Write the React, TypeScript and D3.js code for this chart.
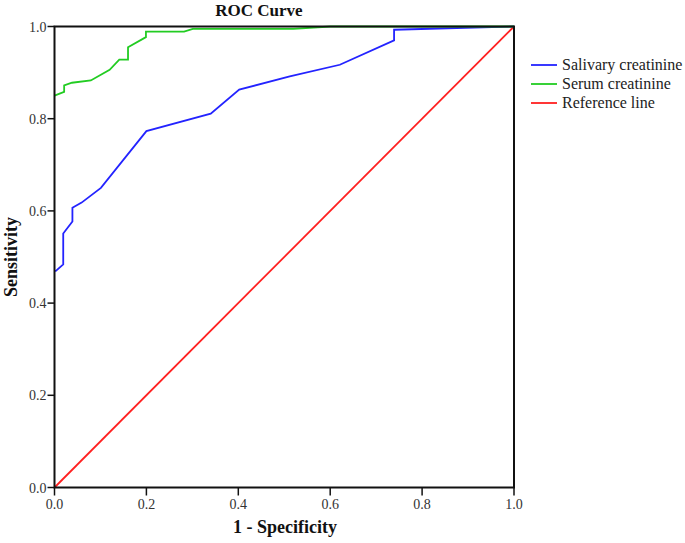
import React from "react";
import * as d3 from "d3";

const salivaryX = [0, 0.003, 0.019, 0.019, 0.039, 0.039, 0.059, 0.101, 0.2, 0.34, 0.402, 0.512, 0.621, 0.739, 0.739, 1.0];
const salivaryY = [0.47, 0.47, 0.484, 0.551, 0.577, 0.607, 0.618, 0.65, 0.773, 0.811, 0.863, 0.892, 0.917, 0.97, 0.993, 1.0];

const serumX = [0, 0, 0.021, 0.021, 0.038, 0.079, 0.12, 0.141, 0.16, 0.16, 0.199, 0.199, 0.282, 0.301, 0.52, 0.6, 1.0];
const serumY = [0.85, 0.85, 0.858, 0.872, 0.878, 0.883, 0.906, 0.928, 0.928, 0.955, 0.977, 0.989, 0.989, 0.995, 0.995, 1.0, 1.0];

const refX = [0, 1];
const refY = [0, 1];

const ticks = [0, 0.2, 0.4, 0.6, 0.8, 1.0];
const legendLabels = ["Salivary creatinine", "Serum creatinine", "Reference line"];
const colors = ["#2323ff", "#22cc22", "#ff2020"];

const W = 685, H = 543;
const left = 54.5, right = 514, top = 26.5, bottom = 487.5;

export default function App() {
  const x = d3.scaleLinear().domain([0, 1]).range([left, right]);
  const y = d3.scaleLinear().domain([0, 1]).range([bottom, top]);
  const line = d3.line<[number, number]>().x(d => x(d[0])).y(d => y(d[1]));
  const series = [
    salivaryX.map((v, i) => [v, salivaryY[i]] as [number, number]),
    serumX.map((v, i) => [v, serumY[i]] as [number, number]),
    refX.map((v, i) => [v, refY[i]] as [number, number]),
  ];
  const font = "'Liberation Serif', 'Times New Roman', serif";
  return (
    <svg width={W} height={H} style={{ position: "absolute", left: 0, top: 0, background: "#fff" }} fontFamily={font}>
      <rect x={0} y={0} width={W} height={H} fill="#fff" />
      <text x={259} y={16} textAnchor="middle" fontWeight="bold" fontSize={17} fill="#111">ROC Curve</text>
      {[2, 0, 1].map(i => (
        <path key={i} d={line(series[i]) || ""} fill="none" stroke={colors[i]} strokeWidth={1.8} />
      ))}
      <rect x={left} y={top} width={right - left} height={bottom - top} fill="none" stroke="#111" strokeWidth={2} />
      {ticks.map(t => (
        <g key={"x" + t}>
          <line x1={x(t)} x2={x(t)} y1={bottom} y2={bottom + 8} stroke="#111" strokeWidth={1.5} />
          <text x={x(t)} y={bottom + 21} textAnchor="middle" fontSize={14} fill="#333">{t.toFixed(1)}</text>
        </g>
      ))}
      {ticks.map(t => (
        <g key={"y" + t}>
          <line x1={left - 7} x2={left} y1={y(t)} y2={y(t)} stroke="#111" strokeWidth={1.5} />
          <text x={left - 8} y={y(t) + 5} textAnchor="end" fontSize={14} fill="#333">{t.toFixed(1)}</text>
        </g>
      ))}
      <text x={285} y={533} textAnchor="middle" fontWeight="bold" fontSize={18} fill="#111">1 - Specificity</text>
      <text transform={`translate(17,${(top + bottom) / 2}) rotate(-90)`} textAnchor="middle" fontWeight="bold" fontSize={18} fill="#111">Sensitivity</text>
      {legendLabels.map((l, i) => (
        <g key={l}>
          <line x1={531} x2={557} y1={65 + i * 19} y2={65 + i * 19} stroke={colors[i]} strokeWidth={1.8} />
          <text x={562} y={70 + i * 19} fontSize={16} fill="#222">{l}</text>
        </g>
      ))}
    </svg>
  );
}
